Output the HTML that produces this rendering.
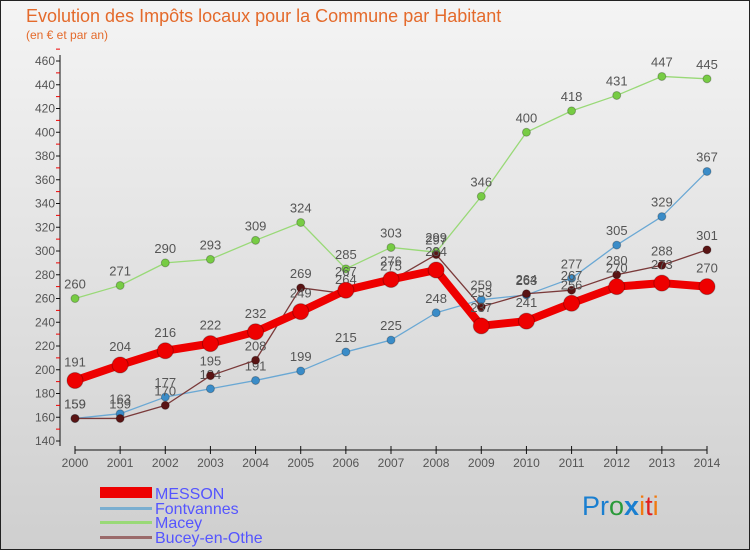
<!DOCTYPE html>
<html><head><meta charset="utf-8"><style>
body{margin:0;}
#c{position:relative;width:750px;height:550px;overflow:hidden;font-family:"Liberation Sans",sans-serif;}
svg text{font-family:"Liberation Sans",sans-serif;}
</style></head><body>
<div id="c">
<svg id="s" width="750" height="550" xmlns="http://www.w3.org/2000/svg">
<defs><linearGradient id="bg" x1="0" y1="0" x2="0" y2="1"><stop offset="0" stop-color="#f4f4f4"/><stop offset="1" stop-color="#cfcfcf"/></linearGradient></defs>
<rect x="0.5" y="0.5" width="749" height="549" fill="url(#bg)" stroke="#222"/>
<text x="26" y="22" font-size="18" fill="#e46a2b">Evolution des Impôts locaux pour la Commune par Habitant</text>
<text x="26" y="39" font-size="12" fill="#e46a2b">(en € et par an)</text>
<g id="axes"></g>
<g id="series"></g>
<g>
<rect x="100" y="487" width="52" height="11" fill="#ee0000"/>
<text x="155" y="499" font-size="16" fill="#5555ff">MESSON</text>
<rect x="100" y="507" width="52" height="3" fill="#7aaed0"/>
<text x="155" y="514" font-size="16" fill="#5555ff">Fontvannes</text>
<rect x="100" y="521" width="52" height="3" fill="#99d977"/>
<text x="155" y="528" font-size="16" fill="#5555ff">Macey</text>
<rect x="100" y="536" width="52" height="3" fill="#9a6a6a"/>
<text x="155" y="543" font-size="16" fill="#5555ff">Bucey-en-Othe</text>
</g>
<g font-size="27">
<text x="582" y="515"><tspan fill="#1a7fd0">Pr</tspan><tspan fill="#2a9a3a">o</tspan><tspan fill="#1a7fd0" font-weight="bold">x</tspan><tspan fill="#f07a10">i</tspan><tspan fill="#e02020">t</tspan><tspan fill="#f07a10">i</tspan></text>
</g>
</svg>
</div>
<script>
const years=[2000,2001,2002,2003,2004,2005,2006,2007,2008,2009,2010,2011,2012,2013,2014];
const messon=[191,204,216,222,232,249,267,276,284,237,241,256,270,273,270];
const fontvannes=[159,163,177,184,191,199,215,225,248,259,263,277,305,329,367];
const macey=[260,271,290,293,309,324,285,303,299,346,400,418,431,447,445];
const bucey=[159,159,170,195,208,269,264,275,297,253,264,267,280,288,301];
const yTicks=[140,160,180,200,220,240,260,280,300,320,340,360,380,400,420,440,460];
const NS='http://www.w3.org/2000/svg';
const X0=75,X1=707,Y0=441,Y1=61,VMIN=140,VMAX=460;
function xs(i){return X0+(X1-X0)*i/(years.length-1);}
function ys(v){return Y0-(v-VMIN)*(Y0-Y1)/(VMAX-VMIN);}
function mk(t,a,p){const e=document.createElementNS(NS,t);for(const k in a)e.setAttribute(k,a[k]);p.appendChild(e);return e;}
const ax=document.getElementById('axes');
const yl=mk('line',{x1:60,y1:55,x2:60,y2:446,stroke:'#111'},ax);


yTicks.forEach(v=>{
 mk('line',{x1:56,y1:ys(v),x2:60,y2:ys(v),stroke:'#111'},ax);
 mk('line',{x1:56,y1:ys(v+10),x2:60,y2:ys(v+10),stroke:'#e00'},ax);
 const t=mk('text',{x:55,y:ys(v)+4,'font-size':12,fill:'#555','text-anchor':'end'},ax);
 t.textContent=v;
 
 
});
const xl=mk('line',{x1:X0,y1:450,x2:X1,y2:450,stroke:'#111'},ax);


years.forEach((y,i)=>{
 mk('line',{x1:xs(i),y1:446,x2:xs(i),y2:454,stroke:'#111'},ax);
 const t=mk('text',{x:xs(i),y:467,'font-size':12,fill:'#555','text-anchor':'middle'},ax);
 t.textContent=y;
 
 
});
const sg=document.getElementById('series');
function draw(vals,name,color,w,r,pc){
 const g=mk('g',{},sg);
 
 
 const pl=mk('polyline',{points:vals.map((v,i)=>xs(i)+','+ys(v)).join(' '),fill:'none',stroke:color,'stroke-width':w,'stroke-linejoin':'round'},g);
 
 
 vals.forEach((v,i)=>{
  const c=mk('circle',{cx:xs(i),cy:ys(v),r:r,fill:pc,stroke:'rgba(0,0,0,0.25)','stroke-width':1},g);
  
  
  const t=mk('text',{x:xs(i),y:ys(v)-r-6,'font-size':13,fill:'#555','text-anchor':'middle'},g);
  t.textContent=v;
  
  
 });
}
draw(macey,'macey','#99d977',1.3,4,'#77cc44');
draw(fontvannes,'fontvannes','#6aa8d4',1.3,4,'#3a8cc8');
draw(bucey,'bucey','#7a3a3a',1.3,4,'#5a1414');
draw(messon,'messon','#ee0000',8,8,'#ee0000');
</script>
</body></html>
